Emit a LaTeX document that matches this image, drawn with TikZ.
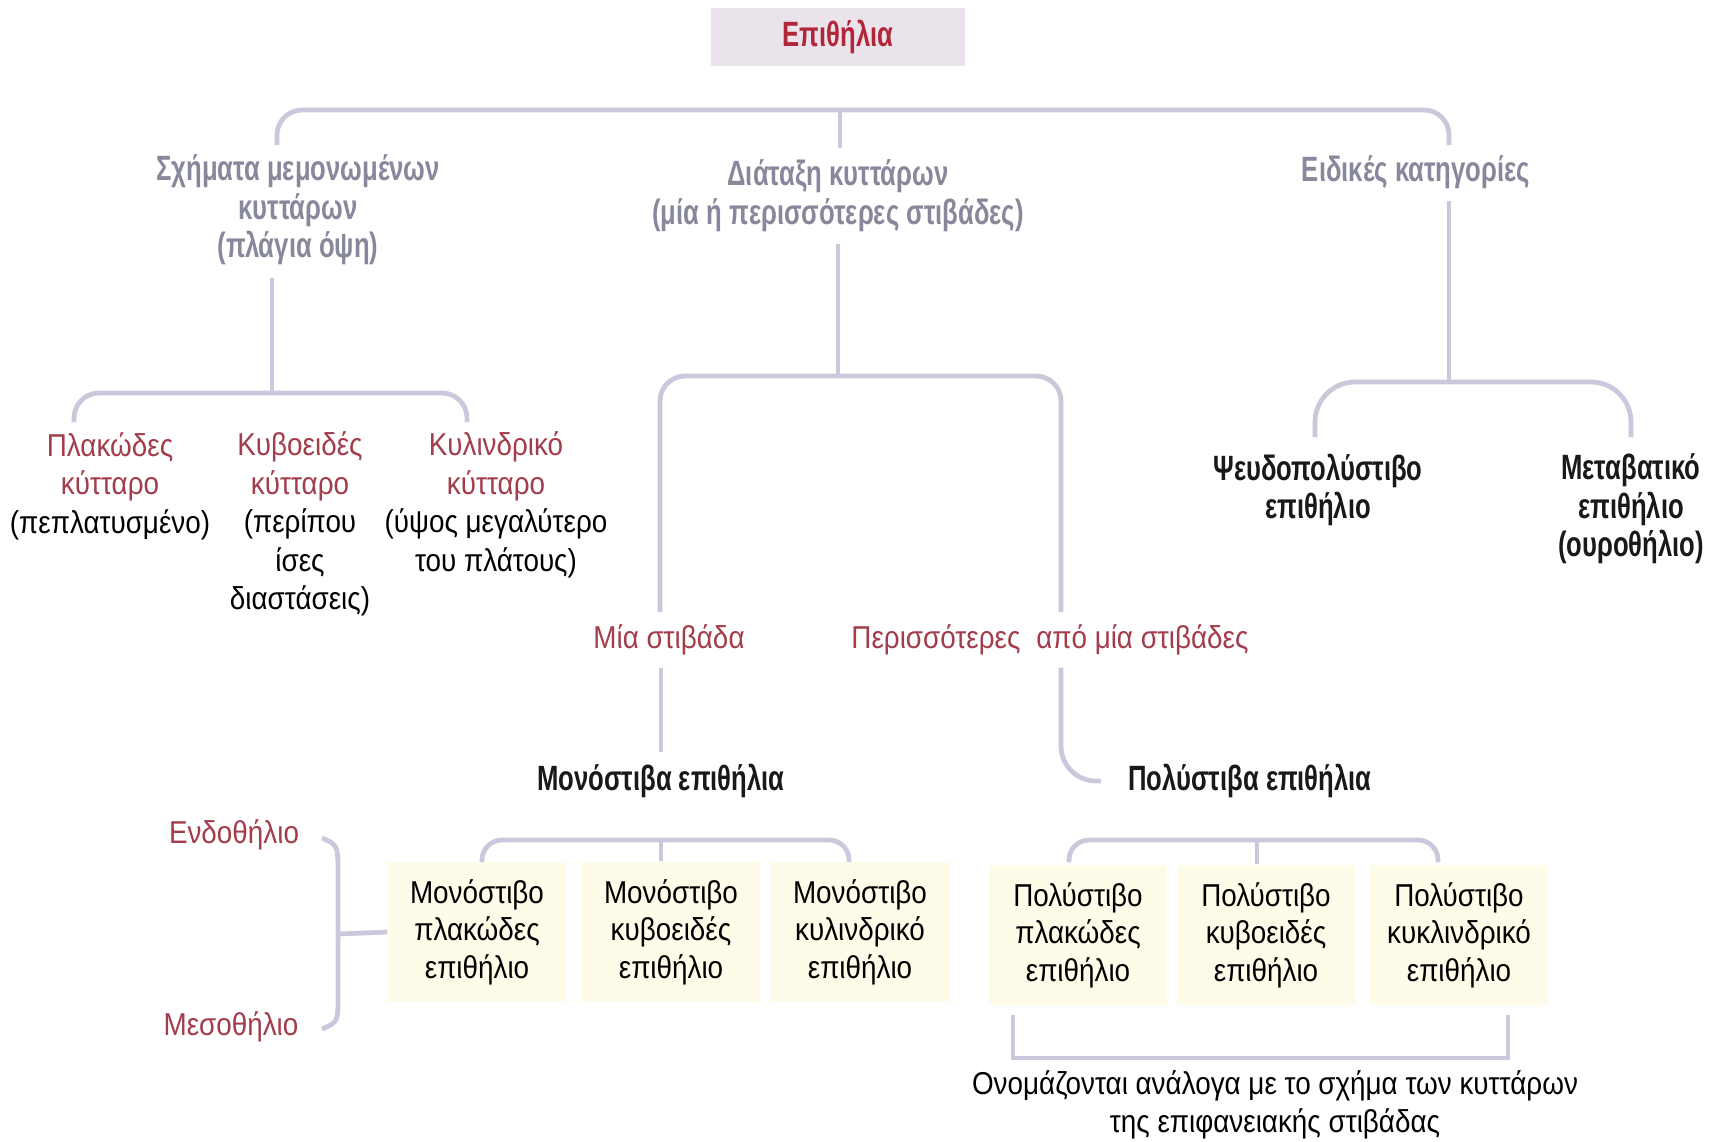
\documentclass[tikz,border=0pt]{standalone}
\usepackage{fontspec}
\setmainfont{Liberation Sans}[FakeStretch=0.88]
\newfontfamily\headfont{Liberation Sans}[FakeStretch=0.73]
\definecolor{brkcol}{RGB}{204,199,220}
\definecolor{catgray}{RGB}{136,136,156}
\definecolor{cellred}{RGB}{163,60,75}
\definecolor{titlered}{RGB}{178,38,58}
\definecolor{boxlilac}{RGB}{234,227,236}
\definecolor{boxcream}{RGB}{254,252,233}
\newcommand{\rd}[1]{\textcolor{cellred}{#1}}

\begin{document}
\begin{tikzpicture}[x=0.1mm, y=-0.1mm,
  brk/.style={draw=brkcol, line width=1.35pt, rounded corners=2.5mm},
  cat/.style={text=catgray, align=center, font=\headfont\bfseries\fontsize{10}{11}\selectfont},
  group/.style={text=black!90, align=center, font=\headfont\bfseries\fontsize{10}{11}\selectfont},
  cell/.style={align=center, font=\fontsize{9}{11}\selectfont},
  layer/.style={text=cellred, font=\fontsize{9}{11}\selectfont},
  kind/.style={fill=boxcream, align=center, minimum width=17.8mm, minimum height=14mm, font=\fontsize{9}{10.7}\selectfont},
  titlebox/.style={fill=boxlilac, text=titlered, minimum width=25.4mm, minimum height=5.2mm, font=\headfont\bfseries\fontsize{10}{11}\selectfont}]

\fill[white] (0,0) rectangle (1711,1141);
\useasboundingbox (0,0) rectangle (1711,1141);

% Title and categories
\node (top) [titlebox] at (838,37) {Επιθήλια};
\node (shapes) [cat] at (298,210) {Σχήματα μεμονωμένων\\κυττάρων\\(πλάγια όψη)};
\node (layout) [cat] at (838,196) {Διάταξη κυττάρων\\(μία ή περισσότερες στιβάδες)};
\node (special) [cat] at (1416,172) {Ειδικές κατηγορίες};

% Cell shapes
\node (flat) [cell] at (110,486) {\rd{Πλακώδες}\\\rd{κύτταρο}\\(πεπλατυσμένο)};
\node (cube) [cell] at (300,524) {\rd{Κυβοειδές}\\\rd{κύτταρο}\\(περίπου\\ίσες\\διαστάσεις)};
\node (cyl) [cell] at (496,505) {\rd{Κυλινδρικό}\\\rd{κύτταρο}\\(ύψος μεγαλύτερο\\του πλάτους)};

% Layers
\node (one) [layer] at (669,640) {Μία στιβάδα};
\node (many) [layer] at (1050,640) {Περισσότερες\enspace από μία στιβάδες};
\node (simple) [group] at (661,781) {Μονόστιβα επιθήλια};
\node (strat) [group] at (1250,781) {Πολύστιβα επιθήλια};

% Special kinds
\node (pseudo) [group] at (1318,490) {Ψευδοπολύστιβο\\επιθήλιο};
\node (trans) [group] at (1631,509) {Μεταβατικό\\επιθήλιο\\(ουροθήλιο)};

% Epithelium boxes
\node (s1) [kind] at (477,932) {Μονόστιβο\\πλακώδες\\επιθήλιο};
\node (s2) [kind] at (671,932) {Μονόστιβο\\κυβοειδές\\επιθήλιο};
\node (s3) [kind] at (860,932) {Μονόστιβο\\κυλινδρικό\\επιθήλιο};
\node (m1) [kind] at (1078,935) {Πολύστιβο\\πλακώδες\\επιθήλιο};
\node (m2) [kind] at (1266,935) {Πολύστιβο\\κυβοειδές\\επιθήλιο};
\node (m3) [kind] at (1459,935) {Πολύστιβο\\κυκλινδρικό\\επιθήλιο};

\node (endo) [layer] at (234,835) {Ενδοθήλιο};
\node (meso) [layer] at (231,1027) {Μεσοθήλιο};
\node (note) [cell] at (1275,1105) {Ονομάζονται ανάλογα με το σχήμα των κυττάρων\\της επιφανειακής στιβάδας};

% Brackets
\coordinate (ta) at (277,145);
\coordinate (tb) at (840,110);
\coordinate (tc) at (1449,145);
\draw[brk] (ta) |- (tb) -| (tc);
\draw[brk] (tb) -- (layout.north -| tb);

\coordinate (la) at (74,422);
\coordinate (lb) at (272,393);
\coordinate (lc) at (467,422);
\draw[brk] (shapes.south -| lb) -- (lb);
\draw[brk] (la) |- (lb) -| (lc);

\coordinate (ma) at (660,612);
\coordinate (mb) at (838,376);
\coordinate (mc) at (1061,612);
\draw[brk] (layout.south -| mb) -- (mb);
\draw[brk] (ma) |- (mb) -| (mc);

\coordinate (ra) at (1315,437);
\coordinate (rb) at (1449,382);
\coordinate (rc) at (1631,437);
\draw[brk] (special.south -| rb) -- (rb);
\draw[brk, rounded corners=4mm] (ra) |- (rb) -| (rc);

\draw[brk] (one.south -| simple) -- (simple.north);
\draw[brk, rounded corners=3.5mm] (many.south -| mc) |- ([xshift=-1.5mm]strat.west);

\coordinate (sa) at (482,862);
\coordinate (sb) at (661,840);
\coordinate (sc) at (849,862);
\draw[brk, rounded corners=2mm] (sa) |- (sb) -| (sc);
\draw[brk] (sb) -- (s2.north -| sb);

\coordinate (pa) at (1069,862);
\coordinate (pb) at (1257,840);
\coordinate (pc) at (1438,862);
\draw[brk, rounded corners=2mm] (pa) |- (pb) -| (pc);
\draw[brk] (pb) -- (m2.north -| pb);

\coordinate (na) at (1013,1015);
\coordinate (nc) at (1508,1015);
\draw[brk, sharp corners] (na) |- (note.north) -| (nc);

% Brace
\coordinate (ba) at (322,838);
\coordinate (bb) at (338,934);
\coordinate (bc) at (322,1029);
\draw[brk, sharp corners] (ba) .. controls (338,845) .. (338,875) -- (338,995) .. controls (338,1022) .. (bc);
\draw[brk] (bb) -- (s1.west);

\end{tikzpicture}
\end{document}
